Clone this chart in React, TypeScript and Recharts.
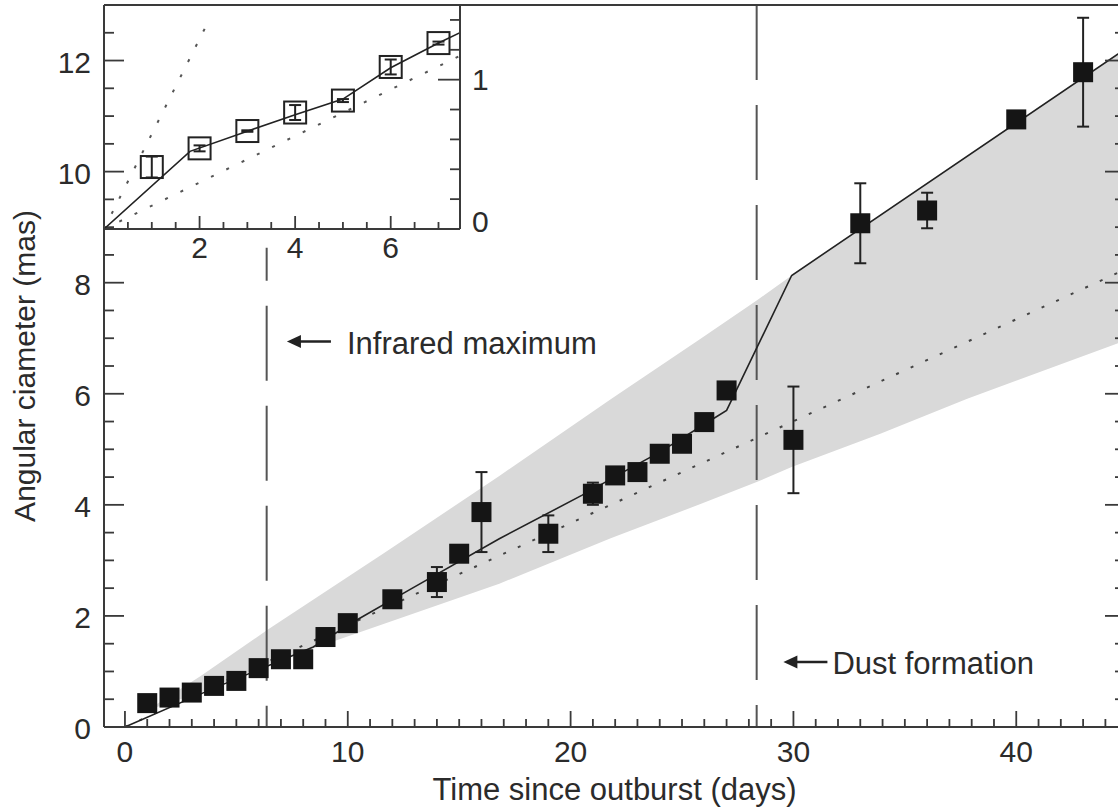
import {
  ComposedChart,
  XAxis,
  YAxis,
  Line,
  Area,
  Scatter,
  ErrorBar,
  ReferenceLine,
  ReferenceDot,
} from "recharts";

// measured angular size (filled squares)
const days = [1, 2, 3, 4, 5, 6, 7, 8, 9, 10, 12, 14, 15, 16, 19, 21, 22, 23, 24, 25, 26, 27, 30, 33, 36, 40, 43];
const diameter = [
  0.43, 0.53, 0.62, 0.74, 0.83, 1.06, 1.22, 1.22, 1.62, 1.87, 2.3, 2.61, 3.12, 3.87, 3.48, 4.2, 4.53, 4.59, 4.92,
  5.1, 5.49, 6.06, 5.17, 9.07, 9.3, 10.94, 11.79,
];
const diameterErr = [
  0, 0, 0, 0, 0, 0, 0, 0, 0, 0, 0, 0.27, 0, 0.72, 0.33, 0.2, 0, 0, 0, 0, 0, 0, 0.96, 0.72, 0.32, 0, 0.98,
];

// model curve (solid)
const modelDays = [0, 4, 8.45, 10.5, 12.9, 16.8, 20.5, 22.5, 24, 26.4, 27, 27.3, 28.3, 29.92, 44.9];
const modelDiam = [0, 0.7, 1.44, 1.95, 2.5, 3.39, 4.17, 4.62, 4.95, 5.55, 5.7, 5.95, 6.78, 8.13, 12.21];

// free expansion (dotted)
const linearDays = [0, 44.9];
const linearDiam = [0, 8.24];

// shaded range
const bandDays = [1, 3.4, 6.4, 11.7, 16.8, 21.8, 25.8, 28.35, 29.92, 33.9, 37.8, 44.9];
const bandHigh = [0.3, 0.92, 1.75, 3.15, 4.52, 5.9, 6.98, 7.68, 8.13, 9.21, 10.27, 12.21];
const bandLow = [0.3, 0.62, 1.13, 1.87, 2.58, 3.4, 4.01, 4.41, 4.68, 5.28, 5.91, 6.96];

// events
const IR_MAX_DAY = 6.36;
const IR_LINE_TOP = 8.63;
const DUST_DAY = 28.35;

// inset: first week
const insetDays = [1, 2, 3, 4, 5, 6, 7];
const insetSize = [0.415, 0.54, 0.656, 0.78, 0.86, 1.085, 1.245];
const insetErr = [0.07, 0.02, 0.005, 0.05, 0.01, 0.05, 0.01];
const insetModelDays = [0, 1.8, 3, 4, 5, 6, 7, 7.45];
const insetModelSize = [0, 0.52, 0.655, 0.765, 0.87, 1.08, 1.245, 1.315];
const insetSteepDays = [0, 2.2];
const insetSteepSize = [0, 1.4];
const insetShallowDays = [0, 7.45];
const insetShallowSize = [0, 1.16];

// tick labels
const xMajor = [0, 10, 20, 30, 40];
const yMajor = [0, 2, 4, 6, 8, 10, 12];
const insetXMajor = [2, 4, 6];
const insetYMajor = [0, 1];

const range = (a: number, b: number, step: number) =>
  Array.from({ length: Math.round((b - a) / step) + 1 }, (_, i) => +(a + i * step).toFixed(3));

const xTicks = range(0, 44, 1);
const yTicks = range(0, 13, 0.5);
const insetXTicks = range(0.5, 7, 0.5);
const insetYTicks = range(0, 1.4, 0.2);

const xy = (xs: number[], ys: number[]) => xs.map((x, i) => ({ x, y: ys[i] }));
const mainPoints = days.map((x, i) => ({ x, y: diameter[i], err: diameterErr[i] }));
const modelData = xy(modelDays, modelDiam);
const linearData = xy(linearDays, linearDiam);
const bandData = bandDays.map((x, i) => ({ x, range: [bandLow[i], bandHigh[i]] }));
const insetPoints = insetDays.map((x, i) => ({ x, y: insetSize[i], err: insetErr[i] }));
const insetModel = xy(insetModelDays, insetModelSize);
const insetSteep = xy(insetSteepDays, insetSteepSize);
const insetShallow = xy(insetShallowDays, insetShallowSize);

const FONT = "'Liberation Sans', Arial, Helvetica, sans-serif";
const INK = "#222";
const TEXT = "#2b2b2b";
const AXIS = "#3a3a3a";
const BAND = "#d9d9d9";
const AXIS_LINE = { stroke: AXIS, strokeWidth: 2 };

type Side = "bottom" | "top" | "left" | "right";

function makeTick(
  side: Side,
  major: number[],
  long: number,
  short: number,
  label?: (v: number) => { dx: number; dy: number; anchor: "start" | "middle" | "end" }
) {
  return (p: any) => {
    const v = Number(p.payload.value);
    const isMajor = major.some((m) => Math.abs(m - v) < 1e-6);
    const len = isMajor ? long : short;
    const { x, y } = p;
    let x2 = x;
    let y2 = y;
    if (side === "bottom") y2 = y - len;
    if (side === "top") y2 = y + len;
    if (side === "left") x2 = x + len;
    if (side === "right") x2 = x - len;
    const pos = isMajor && label ? label(v) : null;
    return (
      <g>
        <line x1={x} y1={y} x2={x2} y2={y2} stroke={AXIS} strokeWidth={1.8} />
        {pos && (
          <text x={x + pos.dx} y={y + pos.dy} textAnchor={pos.anchor} fontSize={30} fill={TEXT}>
            {v}
          </text>
        )}
      </g>
    );
  };
}

const bottomTick = makeTick("bottom", xMajor, 16, 8, () => ({ dx: 0, dy: 35, anchor: "middle" }));
const topTick = makeTick("top", xMajor, 15, 7);
const leftTick = makeTick("left", yMajor, 20, 10, () => ({ dx: -13, dy: 12, anchor: "end" }));
const rightTick = makeTick("right", yMajor, 20, 10);
const insetBottomTick = makeTick("bottom", insetXMajor, 13, 7, () => ({ dx: 0, dy: 29, anchor: "middle" }));
const insetRightTick = makeTick("right", insetYMajor, 22, 10, (v) => ({
  dx: 12,
  dy: v === 0 ? 3 : 10,
  anchor: "start",
}));

function arrowLabel(text: string, gap: number) {
  return (p: any) => (
    <g>
      <line x1={p.cx + 10} y1={p.cy} x2={p.cx + 44} y2={p.cy} stroke={INK} strokeWidth={2.5} />
      <path d={`M${p.cx},${p.cy} l14,-6.5 l0,13 z`} fill={INK} />
      <text x={p.cx + gap} y={p.cy + 12} fontSize={31} fill={TEXT}>
        {text}
      </text>
    </g>
  );
}

const FilledSquare = (p: any) => <rect x={p.cx - 10} y={p.cy - 10} width={20} height={20} fill="#151515" />;
const OpenSquare = (p: any) => (
  <rect x={p.cx - 11} y={p.cy - 11} width={22} height={22} fill="none" stroke={INK} strokeWidth={2} />
);

export default function App() {
  return (
    <div
      style={{
        position: "absolute",
        left: 0,
        top: 0,
        width: 1118,
        height: 809,
        overflow: "hidden",
        background: "#fff",
        fontFamily: FONT,
      }}
    >
      <ComposedChart width={1126} height={809} margin={{ top: 0, right: 0, bottom: 0, left: 0 }}>
        <XAxis
          xAxisId="b"
          dataKey="x"
          type="number"
          domain={[-0.94, 44.88]}
          ticks={xTicks}
          interval={0}
          allowDataOverflow
          height={82}
          tickLine={false}
          tickSize={0}
          tickMargin={0}
          axisLine={AXIS_LINE}
          tick={bottomTick}
          label={{
            value: "Time since outburst (days)",
            position: "insideBottom",
            offset: 9,
            fontSize: 31,
            fill: TEXT,
          }}
        />
        <XAxis
          xAxisId="t"
          orientation="top"
          type="number"
          domain={[-0.94, 44.88]}
          ticks={xTicks}
          interval={0}
          allowDataOverflow
          height={5}
          tickLine={false}
          tickSize={0}
          tickMargin={0}
          axisLine={AXIS_LINE}
          tick={topTick}
        />
        <YAxis
          yAxisId="l"
          type="number"
          domain={[0, 13]}
          ticks={yTicks}
          interval={0}
          allowDataOverflow
          width={104}
          tickLine={false}
          tickSize={0}
          tickMargin={0}
          axisLine={AXIS_LINE}
          tick={leftTick}
          label={{
            value: "Angular ciameter (mas)",
            angle: -90,
            position: "insideLeft",
            offset: 24,
            fontSize: 30,
            fill: TEXT,
            style: { textAnchor: "middle" },
          }}
        />
        <YAxis
          yAxisId="r"
          orientation="right"
          type="number"
          domain={[0, 13]}
          ticks={yTicks}
          interval={0}
          allowDataOverflow
          width={1}
          tickLine={false}
          tickSize={0}
          tickMargin={0}
          axisLine={AXIS_LINE}
          tick={rightTick}
        />

        <Area
          xAxisId="b"
          yAxisId="l"
          data={bandData}
          dataKey="range"
          type="linear"
          stroke="none"
          fill={BAND}
          fillOpacity={1}
          isAnimationActive={false}
        />
        <ReferenceLine
          xAxisId="b"
          yAxisId="l"
          segment={[
            { x: IR_MAX_DAY, y: IR_LINE_TOP },
            { x: IR_MAX_DAY, y: 0 },
          ]}
          stroke="#555"
          strokeWidth={2}
          strokeDasharray="75 25"
          strokeDashoffset={42}
        />
        <ReferenceLine
          xAxisId="b"
          yAxisId="l"
          segment={[
            { x: DUST_DAY, y: 13 },
            { x: DUST_DAY, y: 0 },
          ]}
          stroke="#555"
          strokeWidth={2}
          strokeDasharray="75 25"
        />
        <Line
          xAxisId="b"
          yAxisId="l"
          data={linearData}
          dataKey="y"
          type="linear"
          stroke="#444"
          strokeWidth={2}
          strokeDasharray="3 13"
          dot={false}
          activeDot={false}
          isAnimationActive={false}
        />
        <Line
          xAxisId="b"
          yAxisId="l"
          data={modelData}
          dataKey="y"
          type="linear"
          stroke={INK}
          strokeWidth={1.6}
          dot={false}
          activeDot={false}
          isAnimationActive={false}
        />
        <Scatter
          xAxisId="b"
          yAxisId="l"
          data={mainPoints}
          dataKey="y"
          shape={FilledSquare}
          isAnimationActive={false}
        >
          <ErrorBar dataKey="err" direction="y" width={6} stroke={INK} strokeWidth={2} isAnimationActive={false} />
        </Scatter>
        <ReferenceDot
          xAxisId="b"
          yAxisId="l"
          x={7.27}
          y={6.94}
          r={0}
          ifOverflow="visible"
          shape={arrowLabel("Infrared maximum", 60)}
        />
        <ReferenceDot
          xAxisId="b"
          yAxisId="l"
          x={29.55}
          y={1.17}
          r={0}
          ifOverflow="visible"
          shape={arrowLabel("Dust formation", 49)}
        />
      </ComposedChart>

      <div style={{ position: "absolute", left: 104, top: 5 }}>
        <ComposedChart width={400} height={264} margin={{ top: 0, right: 0, bottom: 0, left: 0 }}>
          <XAxis
            xAxisId="b"
            dataKey="x"
            type="number"
            domain={[0, 7.45]}
            ticks={insetXTicks}
            interval={0}
            allowDataOverflow
            height={40}
            tickLine={false}
            tickSize={0}
            tickMargin={0}
            axisLine={AXIS_LINE}
            tick={insetBottomTick}
          />
          <YAxis
            yAxisId="r"
            orientation="right"
            type="number"
            domain={[0, 1.5]}
            ticks={insetYTicks}
            interval={0}
            allowDataOverflow
            width={44}
            tickLine={false}
            tickSize={0}
            tickMargin={0}
            axisLine={AXIS_LINE}
            tick={insetRightTick}
          />
          <Line
            xAxisId="b"
            yAxisId="r"
            data={insetSteep}
            dataKey="y"
            type="linear"
            stroke="#555"
            strokeWidth={2}
            strokeDasharray="3 14"
            dot={false}
            activeDot={false}
            isAnimationActive={false}
          />
          <Line
            xAxisId="b"
            yAxisId="r"
            data={insetShallow}
            dataKey="y"
            type="linear"
            stroke="#555"
            strokeWidth={2}
            strokeDasharray="3 14"
            dot={false}
            activeDot={false}
            isAnimationActive={false}
          />
          <Line
            xAxisId="b"
            yAxisId="r"
            data={insetModel}
            dataKey="y"
            type="linear"
            stroke={INK}
            strokeWidth={1.6}
            dot={false}
            activeDot={false}
            isAnimationActive={false}
          />
          <Scatter
            xAxisId="b"
            yAxisId="r"
            data={insetPoints}
            dataKey="y"
            shape={OpenSquare}
            isAnimationActive={false}
          >
            <ErrorBar dataKey="err" direction="y" width={6} stroke={INK} strokeWidth={2} isAnimationActive={false} />
          </Scatter>
        </ComposedChart>
      </div>
    </div>
  );
}
